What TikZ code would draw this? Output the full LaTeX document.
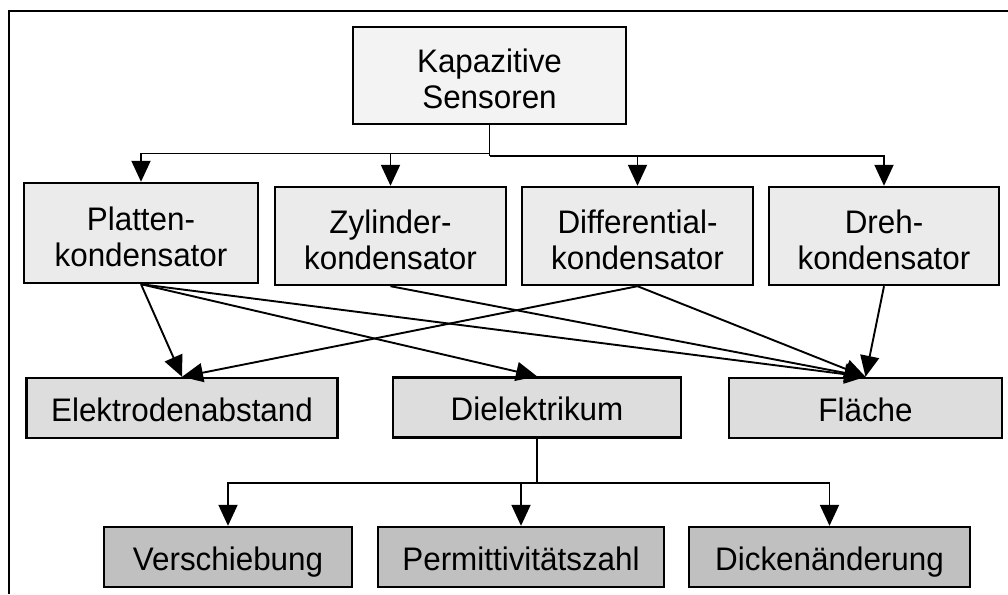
\documentclass[tikz,border=0pt]{standalone}
\usepackage{fontspec}
\setmainfont[FakeStretch=0.963]{Liberation Sans}
\usetikzlibrary{arrows.meta}
\definecolor{fillTop}{HTML}{F3F3F3}
\definecolor{fillOne}{HTML}{EBEBEB}
\definecolor{fillTwo}{HTML}{DDDDDD}
\definecolor{fillThree}{HTML}{C0C0C0}
% invisible struts that set the text a little below the box centre
\newcommand\oneline{\rule{0pt}{\dimexpr 0.716em+3.4pt\relax}}
\newcommand\twoline{\rule{0pt}{\dimexpr 0.716em+7pt\relax}}
\begin{document}
\begin{tikzpicture}[x=1pt,y=-1pt,
  box/.style={draw=black, line width=2.4pt, rectangle, inner sep=0pt,
    align=center, font=\fontsize{32.6}{36}\selectfont},
  rootbox/.style={box, fill=fillTop},
  typebox/.style={box, fill=fillOne, minimum height=98pt},
  quantbox/.style={box, fill=fillTwo, minimum height=60pt, text depth=0pt},
  effectbox/.style={box, fill=fillThree, minimum height=60pt, text depth=0pt},
  wire/.style={line width=1.9pt},
  link/.style={line width=1.9pt, -{Triangle[length=21pt,width=19pt]}},
  frameline/.style={line width=2.2pt}
]
\useasboundingbox (0,0) rectangle (1008,594);

% outer frame (top and left edges only)
\draw[frameline] (9,594) -- (9,11) -- (1008,11);

% root
\node[rootbox, minimum width=273pt, minimum height=97pt] (root) at (489.5,75.5)
  {\twoline Kapazitive\\Sensoren};

% capacitor types
\node[typebox, minimum width=234pt, minimum height=100pt] (platten) at (141,233)
  {\twoline Platten-\\kondensator};
\node[typebox, minimum width=231pt] (zylinder) at (390.5,236)
  {\twoline Zylinder-\\kondensator};
\node[typebox, minimum width=231pt] (diff) at (637.5,236)
  {\twoline Differential-\\kondensator};
\node[typebox, minimum width=230pt] (dreh) at (884,236)
  {\twoline Dreh-\\kondensator};

% varied quantities
\node[quantbox, minimum width=311pt] (abstand) at (182,408) {\oneline Elektrodenabstand};
\node[quantbox, minimum width=288pt] (diel) at (537,407.5) {\oneline Dielektrikum};
\node[quantbox, minimum width=273pt] (flaeche) at (865.5,408) {\oneline Fläche};

% dielectric effects
\node[effectbox, minimum width=248pt] (verschieb) at (228,557) {\oneline Verschiebung};
\node[effectbox, minimum width=286pt] (permitt) at (521,557) {\oneline Permittivitätszahl};
\node[effectbox, minimum width=281pt] (dicke) at (829.5,557) {\oneline Dickenänderung};

% tree from root to types
\coordinate (busL) at (489.5,153.5);
\coordinate (busR) at (489.5,156);
\draw[wire] (root.south) -- (busR);
\draw[link] (busL) -| (platten.north);
\draw[link] (busL) -| (zylinder.north);
\draw[link] (busR) -| (diff.north);
\draw[link] (busR) -| (dreh.north);

% types to quantities
\draw[link] (platten.south) -- (abstand.north);
\draw[link] (platten.south) -- (diel.north);
\draw[link] (platten.south) -- (flaeche.north);
\draw[link] (zylinder.south) -- (flaeche.north);
\draw[link] (diff.south) -- (abstand.north);
\draw[link] (diff.south) -- (flaeche.north);
\draw[link] (dreh.south) -- (flaeche.north);

% tree from dielectric to effects
\coordinate (busD) at (537,483);
\draw[wire] (diel.south) -- (busD);
\draw[link] (busD) -| (verschieb.north);
\draw[link] (busD) -| (permitt.north);
\draw[link] (busD) -| (dicke.north);
\end{tikzpicture}
\end{document}
